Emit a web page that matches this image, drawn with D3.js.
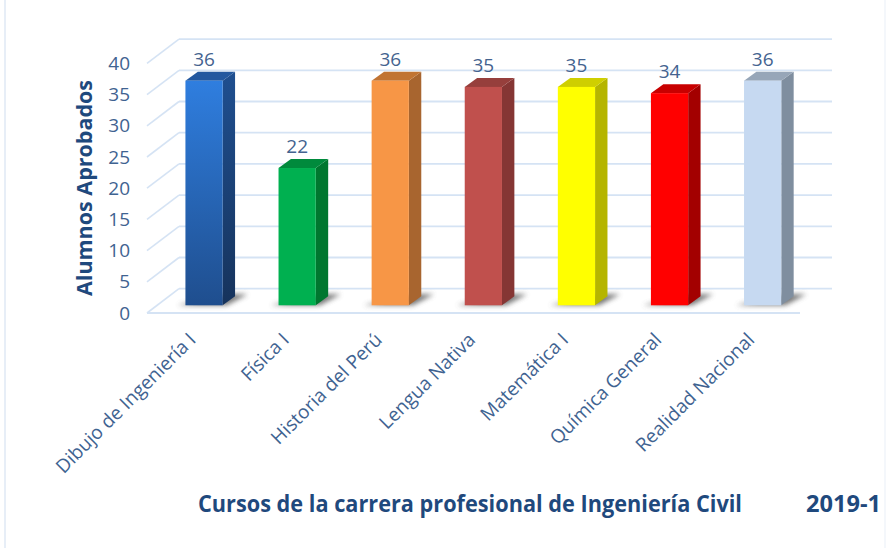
<!DOCTYPE html>
<html>
<head>
<meta charset="utf-8">
<script src="https://cdn.jsdelivr.net/npm/d3@7"></script>
<style>
  html, body { margin: 0; padding: 0; background: #fff; }
  text { font-family: "Open Sans", sans-serif; }
</style>
</head>
<body>
<script>
// datos
var categories = ['Dibujo de Ingeniería I', 'Física I', 'Historia del Perú', 'Lengua Nativa',
  'Matemática I', 'Química General', 'Realidad Nacional'];
var values = [36, 22, 36, 35, 35, 34, 36];
var yTicks = [0, 5, 10, 15, 20, 25, 30, 35, 40];

// colores: frente, lado, tapa
var frontColors = ['url(#azul)', '#00b050', '#f79646', '#c0504d', '#ffff00', '#ff0000', '#c6d9f1'];
var sideColors = ['url(#azulLado)', '#00772f', '#a8652f', '#853634', '#b5b500', '#a30000', '#7f8e9f'];
var topColors = ['#23589f', '#008a3c', '#c17433', '#963f3c', '#cfcf00', '#c80000', '#97a6b8'];

var width = 887, height = 548;
var depth = { x: 32, y: -24.3 };
var barDepth = { x: 12.4, y: -9 };

var svg = d3.select('body').append('svg')
  .attr('width', width)
  .attr('height', height)
  .style('display', 'block');

var defs = svg.append('defs');

function gradient(id, c1, c2) {
  var g = defs.append('linearGradient').attr('id', id)
    .attr('x1', 0).attr('y1', 0).attr('x2', 0).attr('y2', 1);
  g.append('stop').attr('offset', '0%').attr('stop-color', c1);
  g.append('stop').attr('offset', '100%').attr('stop-color', c2);
}
gradient('azul', '#2f7edf', '#1f4e8e');
gradient('azulLado', '#1f4f90', '#16335c');

defs.append('filter').attr('id', 'sombra')
  .attr('x', '-30%').attr('y', '-80%').attr('width', '160%').attr('height', '260%')
  .append('feGaussianBlur').attr('stdDeviation', 2.6);

// marco tenue
svg.append('line').attr('x1', 5).attr('x2', 5).attr('y1', 0).attr('y2', height)
  .attr('stroke', '#dfe9f4').attr('stroke-width', 1.5);
svg.append('line').attr('x1', 885).attr('x2', 885).attr('y1', 0).attr('y2', height)
  .attr('stroke', '#f1f5fa').attr('stroke-width', 1.5);

// escalas
var x = d3.scaleBand()
  .domain(categories)
  .range([157.5, 809.2])
  .paddingInner(0.6)
  .paddingOuter(0.3);

var yAxisScale = d3.scaleLinear().domain([0, 40]).range([313, 63.4]);
var y = d3.scaleLinear().domain([0, 40]).range([305.3, 55.7]);

// rejilla
var grid = svg.append('g').attr('class', 'grid');

grid.selectAll('line.back')
  .data(yTicks)
  .enter()
  .append('line')
    .attr('class', 'back')
    .attr('x1', 147 + depth.x)
    .attr('x2', 832)
    .attr('y1', function(d){ return yAxisScale(d) + depth.y; })
    .attr('y2', function(d){ return yAxisScale(d) + depth.y; })
    .attr('stroke', '#d5e3f4')
    .attr('stroke-width', 1.8);

grid.selectAll('line.slant')
  .data(yTicks)
  .enter()
  .append('line')
    .attr('class', 'slant')
    .attr('x1', 147)
    .attr('x2', 147 + depth.x)
    .attr('y1', function(d){ return yAxisScale(d); })
    .attr('y2', function(d){ return yAxisScale(d) + depth.y; })
    .attr('stroke', '#d5e3f4')
    .attr('stroke-width', 1.6);

grid.append('line')
  .attr('x1', 147).attr('x2', 800)
  .attr('y1', yAxisScale(0)).attr('y2', yAxisScale(0))
  .attr('stroke', '#d5e3f4').attr('stroke-width', 1.8);

// barras
var bars = svg.append('g').attr('class', 'bars')
  .selectAll('g.bar')
  .data(categories)
  .enter()
  .append('g')
    .attr('class', 'bar');

function poly(points) {
  return points.map(function(p){ return p.join(','); }).join(' ');
}

// sombra sobre el piso
bars.append('polygon')
  .attr('points', function(d){
    var x0 = x(d), x1 = x0 + x.bandwidth(), b = y(0);
    return poly([[x0 - 8, b], [x1 + 4, b], [x1 + 25, b - 11], [x1 + 4, b - 11]]);
  })
  .attr('fill', '#555')
  .attr('opacity', 0.8)
  .attr('filter', 'url(#sombra)');

bars.append('polygon')
  .attr('points', function(d, i){
    var x1 = x(d) + x.bandwidth(), t = y(values[i]), b = y(0);
    return poly([[x1, t], [x1 + barDepth.x, t + barDepth.y], [x1 + barDepth.x, b + barDepth.y], [x1, b]]);
  })
  .attr('fill', function(d, i){ return sideColors[i]; });

bars.append('polygon')
  .attr('points', function(d, i){
    var x0 = x(d), x1 = x0 + x.bandwidth(), t = y(values[i]);
    return poly([[x0, t], [x1, t], [x1 + barDepth.x, t + barDepth.y], [x0 + barDepth.x, t + barDepth.y]]);
  })
  .attr('fill', function(d, i){ return topColors[i]; });

bars.append('rect')
  .attr('x', function(d){ return x(d); })
  .attr('y', function(d, i){ return y(values[i]); })
  .attr('width', x.bandwidth())
  .attr('height', function(d, i){ return y(0) - y(values[i]); })
  .attr('fill', function(d, i){ return frontColors[i]; });

// etiquetas de valores
bars.append('text')
  .attr('x', function(d){ return x(d) + x.bandwidth() / 2; })
  .attr('y', function(d, i){ return y(values[i]) - 15; })
  .attr('text-anchor', 'middle')
  .attr('font-size', 19)
  .attr('fill', '#44638f')
  .text(function(d, i){ return values[i]; });

// eje y
var yAxis = svg.append('g')
  .attr('transform', 'translate(130,0)')
  .call(d3.axisLeft(yAxisScale).tickValues(yTicks).tickSize(0).tickPadding(0));
yAxis.select('.domain').remove();
yAxis.selectAll('text')
  .attr('font-size', 19)
  .attr('fill', '#3f6391')
  .style('font-family', '"Open Sans", sans-serif');

svg.append('text')
  .attr('transform', 'translate(92,188) rotate(-90)')
  .attr('text-anchor', 'middle')
  .attr('font-size', 22)
  .attr('font-weight', 'bold')
  .attr('fill', '#1f497d')
  .attr('textLength', 216)
  .attr('lengthAdjust', 'spacingAndGlyphs')
  .text('Alumnos Aprobados');

// eje x, etiquetas a 45 grados
svg.append('g').attr('class', 'xlabels')
  .selectAll('text')
  .data(categories)
  .enter()
  .append('text')
    .attr('transform', function(d){
      return 'translate(' + (x(d) + x.bandwidth() / 2 - 7) + ',341) rotate(-45)';
    })
    .attr('text-anchor', 'end')
    .attr('font-size', 19)
    .attr('fill', '#3f6391')
    .text(function(d){ return d; });

// titulo inferior
svg.append('text')
  .attr('x', 198).attr('y', 512)
  .attr('font-size', 23)
  .attr('font-weight', 'bold')
  .attr('fill', '#1f497d')
  .attr('textLength', 544)
  .attr('lengthAdjust', 'spacingAndGlyphs')
  .text('Cursos de la carrera profesional de Ingeniería Civil');

svg.append('text')
  .attr('x', 806).attr('y', 512)
  .attr('font-size', 23)
  .attr('font-weight', 'bold')
  .attr('fill', '#1f497d')
  .attr('textLength', 75)
  .attr('lengthAdjust', 'spacingAndGlyphs')
  .text('2019-1');
</script>
</body>
</html>
